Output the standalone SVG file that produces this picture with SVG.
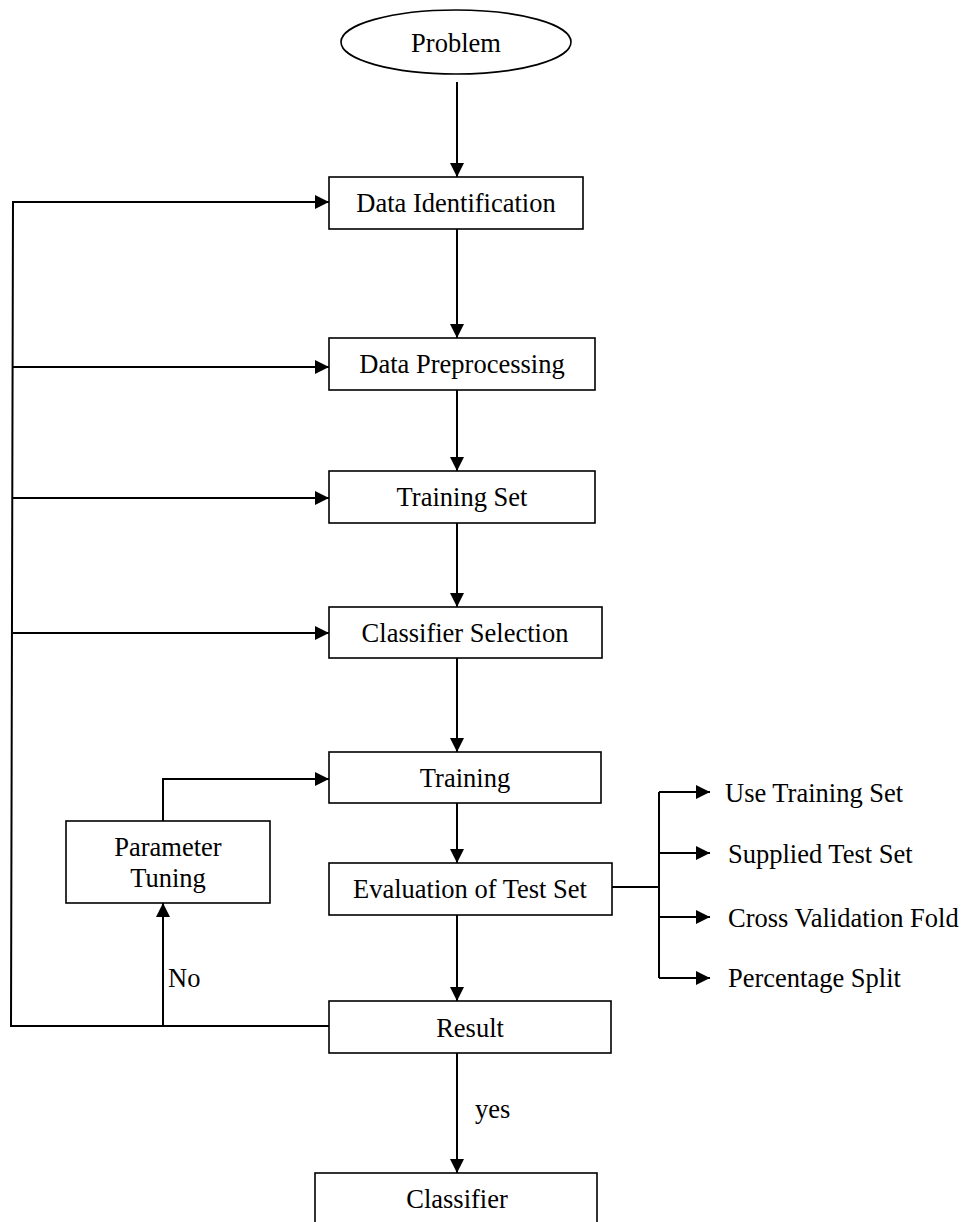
<svg xmlns="http://www.w3.org/2000/svg" width="966" height="1222" viewBox="0 0 966 1222">
<style>
  .box { fill: #fff; stroke: #000; stroke-width: 1.6; }
  .lbl { font-family: "Liberation Serif", "Times New Roman", serif; font-size: 26.5px; fill: #000; }
  .c { text-anchor: middle; }
  .con { fill: none; stroke: #000; stroke-width: 2; }
</style>
<defs>
  <marker id="ah" viewBox="0 0 14 14" refX="14" refY="7" markerWidth="14" markerHeight="14" orient="auto" markerUnits="userSpaceOnUse">
    <path d="M0,0 L14,7 L0,14 z" fill="#000"/>
  </marker>
</defs>
<rect width="966" height="1222" fill="#fff"/>

<g id="connectors">
  <path class="con" d="M457,82 V177" marker-end="url(#ah)"/>
  <path class="con" d="M457,229 V338" marker-end="url(#ah)"/>
  <path class="con" d="M457,390 V471" marker-end="url(#ah)"/>
  <path class="con" d="M457,523 V607" marker-end="url(#ah)"/>
  <path class="con" d="M457,658 V752" marker-end="url(#ah)"/>
  <path class="con" d="M457,803 V863" marker-end="url(#ah)"/>
  <path class="con" d="M457,915 V1001" marker-end="url(#ah)"/>
  <path class="con" d="M457,1053 V1173" marker-end="url(#ah)"/>
  <!-- feedback loop -->
  <path class="con" d="M329,1026 H11 L13,202 H329" marker-end="url(#ah)"/>
  <path class="con" d="M13,367 H329" marker-end="url(#ah)"/>
  <path class="con" d="M13,498 H329" marker-end="url(#ah)"/>
  <path class="con" d="M13,633 H329" marker-end="url(#ah)"/>
  <!-- No branch -->
  <path class="con" d="M163,1026 V903" marker-end="url(#ah)"/>
  <path class="con" d="M163,821 V779 H329" marker-end="url(#ah)"/>
  <!-- evaluation options -->
  <path class="con" d="M612,887 H659"/>
  <path class="con" d="M659,792 V978"/>
  <path class="con" d="M659,792 H710" marker-end="url(#ah)"/>
  <path class="con" d="M659,853 H710" marker-end="url(#ah)"/>
  <path class="con" d="M659,917 H710" marker-end="url(#ah)"/>
  <path class="con" d="M659,978 H710" marker-end="url(#ah)"/>
  <text class="lbl" x="168" y="987">No</text>
  <text class="lbl" x="475" y="1118">yes</text>
</g>

<g id="problem">
  <ellipse class="box" cx="456" cy="42" rx="115" ry="32"/>
  <text class="lbl c" x="456" y="52">Problem</text>
</g>
<g id="data-identification">
  <rect class="box" x="329" y="177" width="254" height="52"/>
  <text class="lbl c" x="456" y="212">Data Identification</text>
</g>
<g id="data-preprocessing">
  <rect class="box" x="329" y="338" width="266" height="52"/>
  <text class="lbl c" x="462" y="373">Data Preprocessing</text>
</g>
<g id="training-set">
  <rect class="box" x="329" y="471" width="266" height="52"/>
  <text class="lbl c" x="462" y="506">Training Set</text>
</g>
<g id="classifier-selection">
  <rect class="box" x="329" y="607" width="273" height="51"/>
  <text class="lbl c" x="465" y="642">Classifier Selection</text>
</g>
<g id="training">
  <rect class="box" x="329" y="752" width="272" height="51"/>
  <text class="lbl c" x="465" y="787">Training</text>
</g>
<g id="parameter-tuning">
  <rect class="box" x="66" y="821" width="204" height="82"/>
  <text class="lbl c" x="168" y="856">Parameter</text>
  <text class="lbl c" x="168" y="887">Tuning</text>
</g>
<g id="evaluation">
  <rect class="box" x="329" y="863" width="283" height="52"/>
  <text class="lbl c" x="470" y="898">Evaluation of Test Set</text>
</g>
<g id="result">
  <rect class="box" x="329" y="1001" width="282" height="52"/>
  <text class="lbl c" x="470" y="1037">Result</text>
</g>
<g id="classifier">
  <rect class="box" x="315" y="1173" width="282" height="70"/>
  <text class="lbl c" x="457" y="1208">Classifier</text>
</g>
<g id="use-training-set">
  <text class="lbl" x="725" y="802">Use Training Set</text>
</g>
<g id="supplied-test-set">
  <text class="lbl" x="728" y="863">Supplied Test Set</text>
</g>
<g id="cross-validation-fold">
  <text class="lbl" x="728" y="927">Cross Validation Fold</text>
</g>
<g id="percentage-split">
  <text class="lbl" x="728" y="987">Percentage Split</text>
</g>
</svg>
